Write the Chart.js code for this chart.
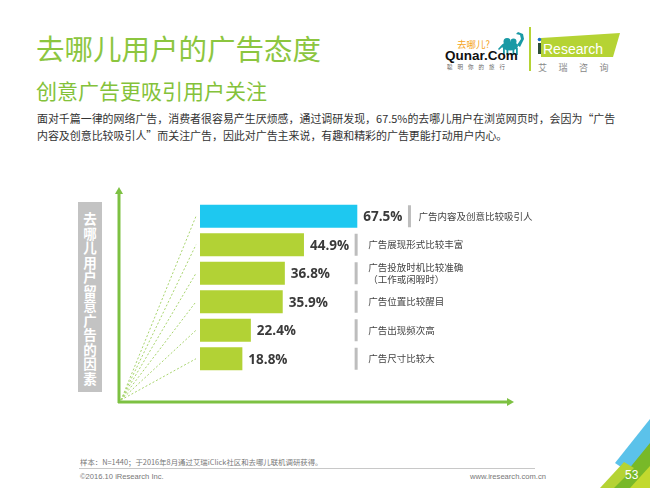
<!DOCTYPE html>
<html>
<head>
<meta charset="utf-8">
<script src="https://cdn.jsdelivr.net/npm/chart.js@4/dist/chart.umd.min.js"></script>
<style>
  html, body { margin: 0; padding: 0; }
  body { width: 650px; height: 488px; position: relative; overflow: hidden; background: #fff;
         font-family: "Noto Sans CJK SC", "Noto Sans", sans-serif; }
  .abs { position: absolute; white-space: nowrap; }
  #title { left: 36px; top: 34px; font-size: 28.5px; color: #8cc63f; line-height: 1; }
  #subtitle { left: 36px; top: 80px; font-size: 21px; color: #84c23a; line-height: 1; }
  #para { left: 37px; top: 110px; font-size: 10.95px; color: #333; line-height: 17px; }
  #ytitle { left: 78px; top: 202px; width: 24px; height: 190px; background: #c3c3c3; }
  #ytitle div { position: absolute; left: 4px; top: 9px; width: 16px; white-space: normal; word-break: break-all;
                color: #fff; font-weight: bold; font-size: 13.5px; line-height: 14.5px; text-align: center; }
  #chartWrap { left: 60px; top: 160px; width: 500px; height: 260px; }
  #note { left: 80px; top: 456px; font-size: 7.4px; color: #777; }
  #rule { left: 79px; top: 468px; width: 456px; height: 1px; background: #c8c8c8; }
  #copy { left: 80px; top: 472px; font-size: 7.6px; color: #777; font-family: "Liberation Sans", sans-serif; }
  #www { left: 470px; top: 472px; width: 67px; text-align: right; font-size: 7.6px; color: #777; font-family: "Liberation Sans", sans-serif; }
  #page { left: 625px; top: 468px; font-size: 12px; color: #fff; font-family: "Liberation Sans", sans-serif; }
</style>
</head>
<body>
<div class="abs" id="title">去哪儿用户的广告态度</div>
<div class="abs" id="subtitle">创意广告更吸引用户关注</div>
<div class="abs" id="para">面对千篇一律的网络广告，消费者很容易产生厌烦感，通过调研发现，67.5%的去哪儿用户在浏览网页时，会因为“广告<br>内容及创意比较吸引人”而关注广告，因此对广告主来说，有趣和精彩的广告更能打动用户内心。</div>

<!-- logos -->
<svg class="abs" style="left:440px;top:25px" width="200" height="60">
  <text x="17" y="23" font-size="9.5" fill="#f5a623" font-family="Noto Sans CJK SC">去哪儿?</text>
  <g fill="#1a9aa5">
    <ellipse cx="70" cy="21" rx="8" ry="4.5"/>
    <ellipse cx="67" cy="16.5" rx="3.5" ry="3.5"/>
    <ellipse cx="73.5" cy="16.5" rx="3" ry="3"/>
    <path d="M77 20 L81 14 L80 10 L76 9 L78 7 L83 9 L84 14 L80 22 Z"/>
    <rect x="63" y="23" width="1.8" height="7"/><rect x="66.5" y="24" width="1.8" height="6"/>
    <rect x="72.5" y="24" width="1.8" height="6"/><rect x="76" y="23" width="1.8" height="7"/>
    <path d="M62.5 19 L58 24 L59 25 L63.5 21 Z"/>
  </g>
  <text x="5" y="35" font-size="13.5" font-weight="bold" fill="#111" font-family="Liberation Sans">Qunar.Com</text>
  <text x="7" y="44" font-size="5.5" fill="#666" letter-spacing="5" font-family="Noto Sans CJK SC">聪明你的旅行</text>
  <rect x="89" y="2" width="2" height="44" fill="#b5d334"/>
  <polygon points="101,13 180,8 173,32 101,32" fill="#b5d334"/>
  <rect x="98" y="18" width="3" height="11" fill="#2f4f3a"/>
  <circle cx="99.5" cy="14.5" r="1.8" fill="#1b6fc6"/>
  <text x="103" y="28.5" font-size="14" fill="#fff" font-family="Liberation Sans">Research</text>
  <text x="98" y="46" font-size="9" fill="#888" letter-spacing="11.5" font-family="Noto Sans CJK SC">艾瑞咨询</text>
</svg>

<div class="abs" id="ytitle"><div>去哪儿用户留意广告的因素</div></div>
<div class="abs" id="chartWrap"><canvas id="chart" width="500" height="260"></canvas></div>

<div class="abs" id="note">样本：N=1440；于2016年8月通过艾瑞iClick社区和去哪儿联机调研获得。</div>
<div class="abs" id="rule"></div>
<div class="abs" id="copy">©2016.10 iResearch Inc.</div>
<div class="abs" id="www">www.iresearch.com.cn</div>

<svg class="abs" style="left:590px;top:410px" width="60" height="78">
  <polygon points="25,53 60,9 60,40 40,63" fill="#5bc2ea"/>
  <polygon points="38,60 60,33 60,78 22,78" fill="#78b928"/>
  <polygon points="10,78 34,52 44,58 24,78" fill="#b5d334"/>
  <polygon points="40,78 60,56 60,78" fill="#c2d92e"/>
</svg>
<div class="abs" id="page">53</div>

<script>
var categories = [
  '广告内容及创意比较吸引人',
  '广告展现形式比较丰富',
  '广告投放时机比较准确\n（工作或闲暇时）',
  '广告位置比较醒目',
  '广告出现频次高',
  '广告尺寸比较大'
];
var shares = [67.5, 44.9, 36.8, 35.9, 22.4, 18.8];
var barColors = ['#1ec8f0', '#b2d235', '#b2d235', '#b2d235', '#b2d235', '#b2d235'];

var arrow = function (ctx, x1, y1, x2, y2) {
  var a = Math.atan2(y2 - y1, x2 - x1);
  ctx.beginPath();
  ctx.moveTo(x1, y1);
  ctx.lineTo(x2 - 5 * Math.cos(a), y2 - 5 * Math.sin(a));
  ctx.stroke();
  ctx.beginPath();
  ctx.moveTo(x2, y2);
  ctx.lineTo(x2 - 7 * Math.cos(a) + 4 * Math.sin(a), y2 - 7 * Math.sin(a) - 4 * Math.cos(a));
  ctx.lineTo(x2 - 7 * Math.cos(a) - 4 * Math.sin(a), y2 - 7 * Math.sin(a) + 4 * Math.cos(a));
  ctx.closePath();
  ctx.fill();
};

var decorPlugin = {
  id: 'decor',
  beforeDatasetsDraw: function (chart) {
    var ctx = chart.ctx;
    var bars = chart.getDatasetMeta(0).data;
    var ox = 61, oy = 240;
    ctx.save();
    // dotted guide lines from the origin to every bar
    ctx.strokeStyle = '#a8d46e';
    ctx.lineWidth = 1;
    ctx.setLineDash([2, 2]);
    bars.forEach(function (b) {
      ctx.beginPath();
      ctx.moveTo(ox, oy);
      ctx.lineTo(b.base - 3, b.y);
      ctx.stroke();
    });
    ctx.setLineDash([]);
    // axes with arrows
    ctx.strokeStyle = '#7dc142';
    ctx.fillStyle = '#7dc142';
    ctx.lineWidth = 3;
    arrow(ctx, 59, 243, 59, 27);
    arrow(ctx, 58, 242, 454, 242);
    ctx.restore();
  },
  afterDatasetsDraw: function (chart) {
    var ctx = chart.ctx;
    var bars = chart.getDatasetMeta(0).data;
    ctx.save();
    ctx.textBaseline = 'middle';
    ctx.font = 'bold 13.5px "Open Sans", sans-serif';
    var ends = bars.map(function (b, i) {
      return b.x + 5 + ctx.measureText(shares[i].toFixed(1) + '%').width;
    });
    var restEnd = Math.max.apply(null, ends.slice(1));
    bars.forEach(function (b, i) {
      ctx.font = 'bold 13.5px "Open Sans", sans-serif';
      ctx.fillStyle = '#3a3a3a';
      ctx.textAlign = 'left';
      ctx.fillText(shares[i].toFixed(1) + '%', b.x + 5, b.y + 1);
      var sx = (i === 0 ? ends[0] : restEnd) + 7;
      ctx.fillStyle = '#bdbdbd';
      ctx.fillRect(sx - 1.5, b.y - 11, 3, 22);
      ctx.font = '9.5px "Noto Sans CJK SC", sans-serif';
      ctx.fillStyle = '#444';
      var lines = categories[i].split('\n');
      lines.forEach(function (t, k) {
        ctx.fillText(t, sx + (i === 0 ? 9 : 12), b.y + (k - (lines.length - 1) / 2) * 12);
      });
    });
    ctx.restore();
  }
};

new Chart(document.getElementById('chart').getContext('2d'), {
  type: 'bar',
  data: {
    labels: categories,
    datasets: [{
      data: shares,
      backgroundColor: barColors,
      borderColor: 'rgba(255,255,255,0.55)',
      borderWidth: 1,
      borderSkipped: false,
      barPercentage: 0.88,
      categoryPercentage: 1
    }]
  },
  options: {
    indexAxis: 'y',
    responsive: false,
    animation: false,
    devicePixelRatio: 1,
    layout: { padding: { left: 139, right: 125, top: 42, bottom: 47 } },
    plugins: { legend: { display: false }, tooltip: { enabled: false } },
    scales: {
      x: { display: false, min: 0, max: 100 },
      y: { display: false }
    }
  },
  plugins: [decorPlugin]
});
</script>
</body>
</html>
